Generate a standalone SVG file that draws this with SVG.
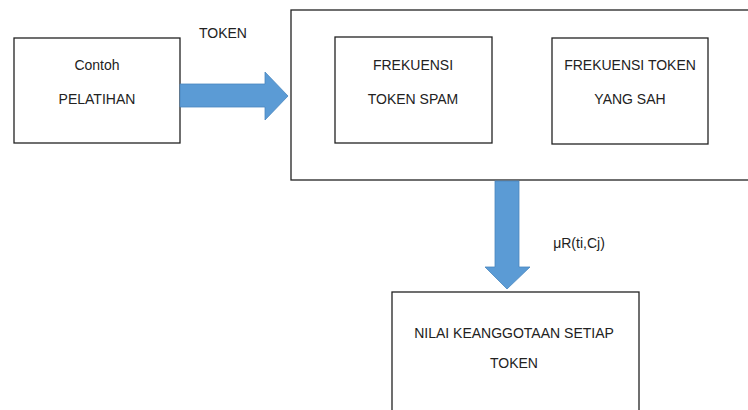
<svg xmlns="http://www.w3.org/2000/svg" width="748" height="410" viewBox="0 0 748 410">
<style>
.box{fill:#fff;stroke:#222;stroke-width:1.3}
.t{font-family:"Liberation Sans",Arial,sans-serif;font-size:14px;fill:#222;text-anchor:middle}
.arr{fill:#5B9BD5;stroke:#4A86BE;stroke-width:0.8}
</style>
<rect width="748" height="410" fill="#fff"/>
<g id="container">
<rect class="box" x="291" y="10" width="470" height="170"/>
</g>
<g id="contoh">
<rect class="box" x="14" y="38" width="166" height="105"/>
<text class="t" x="97" y="70">Contoh</text>
<text class="t" x="97" y="104">PELATIHAN</text>
</g>
<g id="spam">
<rect class="box" x="335" y="37" width="157" height="106"/>
<text class="t" x="413" y="70">FREKUENSI</text>
<text class="t" x="413" y="104">TOKEN SPAM</text>
</g>
<g id="sah">
<rect class="box" x="552" y="38" width="156" height="106"/>
<text class="t" x="630" y="70">FREKUENSI TOKEN</text>
<text class="t" x="630" y="104">YANG SAH</text>
</g>
<g id="nilai">
<rect class="box" x="392" y="292" width="247" height="130"/>
<text class="t" x="514" y="338">NILAI KEANGGOTAAN SETIAP</text>
<text class="t" x="514" y="368">TOKEN</text>
</g>
<g id="connectors">
<polygon class="arr" points="180,84 265,84 265,72 288,96 265,120 265,107 180,107"/>
<text class="t" x="223" y="38">TOKEN</text>
<polygon class="arr" points="495,181 519,181 519,267 530,267 507,289 485,267 495,267"/>
<text class="t" x="579" y="248">μR(ti,Cj)</text>
</g>
</svg>
